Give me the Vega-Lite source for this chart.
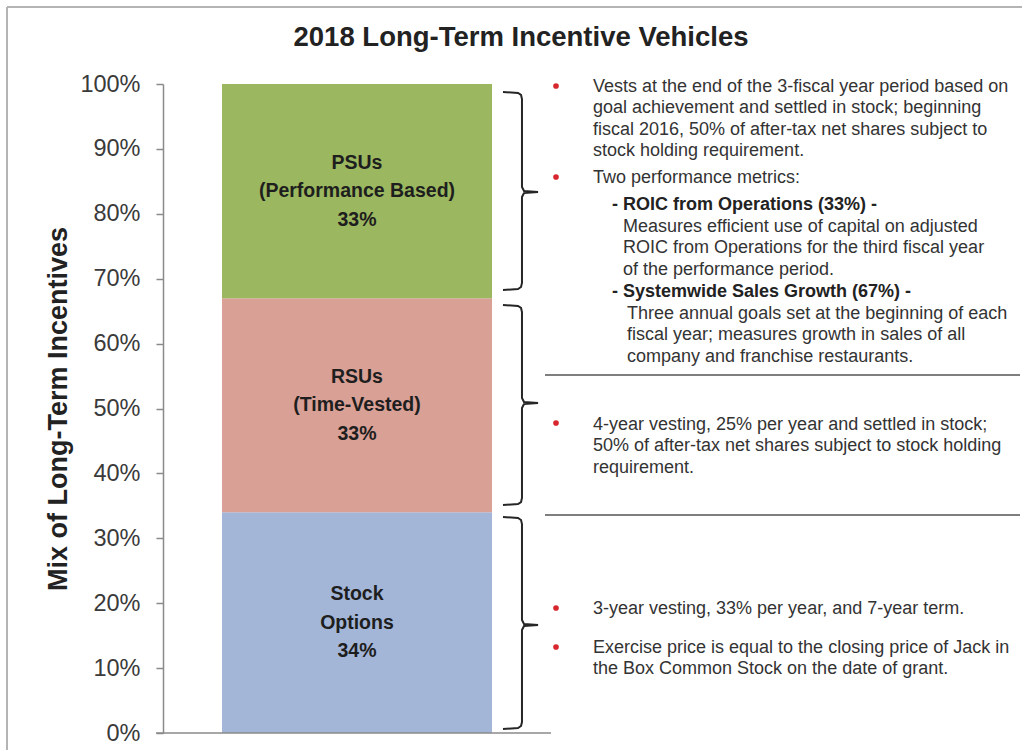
{
  "$schema": "https://vega.github.io/schema/vega-lite/v6.json",
  "width": 859,
  "height": 649,
  "autosize": {"type": "none"},
  "padding": {"left": 163, "top": 84, "right": 0, "bottom": 17},
  "background": "white",
  "config": {
    "view": {"stroke": null},
    "font": "Liberation Sans"
  },
  "title": {
    "text": "2018 Long-Term Incentive Vehicles",
    "fontSize": 27.5,
    "fontWeight": "bold",
    "color": "#222222",
    "anchor": "middle",
    "dx": -71.5,
    "offset": -45
  },
  "layer": [
    {
      "data": {"values": [
        {"vehicle": "Stock Options", "share": 0.34, "order": 1, "label": "Stock\nOptions\n34%"},
        {"vehicle": "RSUs", "share": 0.33, "order": 2, "label": "RSUs\n(Time-Vested)\n33%"},
        {"vehicle": "PSUs", "share": 0.33, "order": 3, "label": "PSUs\n(Performance Based)\n33%"}
      ]},
      "transform": [
        {"window": [{"op": "sum", "field": "share", "as": "hi"}], "sort": [{"field": "order", "order": "ascending"}], "frame": [null, 0]},
        {"calculate": "datum.hi - datum.share", "as": "lo"},
        {"calculate": "datum.hi - datum.share / 2", "as": "mid"}
      ],
      "layer": [
        {
          "mark": {"type": "bar"},
          "encoding": {
            "x": {"datum": 6.87, "type": "quantitative", "scale": {"domain": [0, 100], "nice": false, "zero": false}, "axis": null},
            "x2": {"datum": 38.3},
            "y": {
              "field": "lo", "type": "quantitative",
              "scale": {"domain": [0, 1], "nice": false},
              "title": "Mix of Long-Term Incentives",
              "axis": {
                "values": [0, 0.1, 0.2, 0.3, 0.4, 0.5, 0.6, 0.7, 0.8, 0.9, 1],
                "format": ".0%",
                "grid": false,
                "domainColor": "#8a8a8a",
                "domainWidth": 1.5,
                "tickColor": "#8a8a8a",
                "tickWidth": 1.5,
                "tickSize": 7,
                "labelFontSize": 23.5,
                "labelColor": "#3a3a3a",
                "labelPadding": 16,
                "titleFontSize": 27,
                "titleFontWeight": "bold",
                "titleColor": "#222222",
                "titlePadding": 7
              }
            },
            "y2": {"field": "hi"},
            "color": {
              "field": "vehicle", "type": "nominal",
              "scale": {"domain": ["Stock Options", "RSUs", "PSUs"], "range": ["#a3b6d8", "#d9a096", "#9bb75f"]},
              "legend": null
            }
          }
        },
        {
          "mark": {"type": "text", "fontSize": 19.5, "fontWeight": "bold", "color": "#1e1e1e", "lineBreak": "\n", "lineHeight": 28.5, "align": "center", "baseline": "middle", "dy": -28.5},
          "encoding": {
            "x": {"datum": 22.58, "type": "quantitative"},
            "y": {"field": "mid", "type": "quantitative"},
            "text": {"field": "label", "type": "nominal"}
          }
        }
      ]
    },
    {
      "data": {"values": [
        {"kind": "separator", "x": 44.47, "x2": 99.77, "y": 0.5516, "y2": 0.5516},
        {"kind": "separator", "x": 44.47, "x2": 99.77, "y": 0.3359, "y2": 0.3359}
      ]},
      "mark": {"type": "rule", "color": "#555555", "strokeWidth": 1.5},
      "encoding": {
        "x": {"field": "x", "type": "quantitative"},
        "x2": {"field": "x2"},
        "y": {"field": "y", "type": "quantitative"},
        "y2": {"field": "y2"}
      }
    },
    {
      "data": {"values": [
        {"kind": "baseline", "x": -0.81, "x2": 45.17, "y": 0, "y2": 0}
      ]},
      "mark": {"type": "rule", "color": "#8a8a8a", "strokeWidth": 1.5},
      "encoding": {
        "x": {"field": "x", "type": "quantitative"},
        "x2": {"field": "x2"},
        "y": {"field": "y", "type": "quantitative"},
        "y2": {"field": "y2"}
      }
    },
    {
      "data": {"values": [
        {"kind": "frame", "x": -18.16, "x2": 100, "y": 1.1186, "y2": 1.1186},
        {"kind": "frame", "x": -18.16, "x2": -18.16, "y": 1.1186, "y2": -0.05}
      ]},
      "mark": {"type": "rule", "color": "#b4b4b4", "strokeWidth": 2},
      "encoding": {
        "x": {"field": "x", "type": "quantitative"},
        "x2": {"field": "x2"},
        "y": {"field": "y", "type": "quantitative"},
        "y2": {"field": "y2"}
      }
    },
    {
      "data": {"values": [
        {"b": "PSUs", "s": 1, "x": 39.58, "y": 0.9877},
        {"b": "PSUs", "s": 2, "x": 41.33, "y": 0.9861},
        {"b": "PSUs", "s": 3, "x": 41.68, "y": 0.9831},
        {"b": "PSUs", "s": 4, "x": 41.79, "y": 0.9769},
        {"b": "PSUs", "s": 5, "x": 41.79, "y": 0.8413},
        {"b": "PSUs", "s": 6, "x": 42.03, "y": 0.8351},
        {"b": "PSUs", "s": 7, "x": 43.66, "y": 0.8336},
        {"b": "PSUs", "s": 8, "x": 42.03, "y": 0.8320},
        {"b": "PSUs", "s": 9, "x": 41.79, "y": 0.8259},
        {"b": "PSUs", "s": 10, "x": 41.79, "y": 0.6934},
        {"b": "PSUs", "s": 11, "x": 41.68, "y": 0.6872},
        {"b": "PSUs", "s": 12, "x": 41.33, "y": 0.6841},
        {"b": "PSUs", "s": 13, "x": 39.58, "y": 0.6826},
        {"b": "RSUs", "s": 1, "x": 39.58, "y": 0.6595},
        {"b": "RSUs", "s": 2, "x": 41.33, "y": 0.6579},
        {"b": "RSUs", "s": 3, "x": 41.68, "y": 0.6549},
        {"b": "RSUs", "s": 4, "x": 41.79, "y": 0.6487},
        {"b": "RSUs", "s": 5, "x": 41.79, "y": 0.5162},
        {"b": "RSUs", "s": 6, "x": 42.03, "y": 0.5100},
        {"b": "RSUs", "s": 7, "x": 43.66, "y": 0.5085},
        {"b": "RSUs", "s": 8, "x": 42.03, "y": 0.5069},
        {"b": "RSUs", "s": 9, "x": 41.79, "y": 0.5008},
        {"b": "RSUs", "s": 10, "x": 41.79, "y": 0.3621},
        {"b": "RSUs", "s": 11, "x": 41.68, "y": 0.3559},
        {"b": "RSUs", "s": 12, "x": 41.33, "y": 0.3529},
        {"b": "RSUs", "s": 13, "x": 39.58, "y": 0.3513},
        {"b": "Options", "s": 1, "x": 39.58, "y": 0.3328},
        {"b": "Options", "s": 2, "x": 41.33, "y": 0.3313},
        {"b": "Options", "s": 3, "x": 41.68, "y": 0.3282},
        {"b": "Options", "s": 4, "x": 41.79, "y": 0.3220},
        {"b": "Options", "s": 5, "x": 41.79, "y": 0.1741},
        {"b": "Options", "s": 6, "x": 42.03, "y": 0.1680},
        {"b": "Options", "s": 7, "x": 43.66, "y": 0.1664},
        {"b": "Options", "s": 8, "x": 42.03, "y": 0.1649},
        {"b": "Options", "s": 9, "x": 41.79, "y": 0.1587},
        {"b": "Options", "s": 10, "x": 41.79, "y": 0.0169},
        {"b": "Options", "s": 11, "x": 41.68, "y": 0.0108},
        {"b": "Options", "s": 12, "x": 41.33, "y": 0.0077},
        {"b": "Options", "s": 13, "x": 39.58, "y": 0.0062}
      ]},
      "mark": {"type": "line", "color": "#262626", "strokeWidth": 2},
      "encoding": {
        "x": {"field": "x", "type": "quantitative"},
        "y": {"field": "y", "type": "quantitative"},
        "detail": {"field": "b", "type": "nominal"},
        "order": {"field": "s", "type": "quantitative"}
      }
    },
    {
      "data": {"values": [
        {"x": 45.75, "y": 0.9969},
        {"x": 45.75, "y": 0.8567},
        {"x": 45.75, "y": 0.4777},
        {"x": 45.75, "y": 0.1926},
        {"x": 45.75, "y": 0.1325}
      ]},
      "mark": {"type": "point", "shape": "circle", "filled": true, "size": 32, "color": "#d7262e", "opacity": 1},
      "encoding": {
        "x": {"field": "x", "type": "quantitative"},
        "y": {"field": "y", "type": "quantitative"}
      }
    },
    {
      "data": {"values": [
        {"x": 50.06, "y": 0.9954, "bold": false, "text": "Vests at the end of the 3-fiscal year period based on\ngoal achievement and settled in stock; beginning\nfiscal 2016, 50% of after-tax net shares subject to\nstock holding requirement."},
        {"x": 50.06, "y": 0.8552, "bold": false, "text": "Two performance metrics:"},
        {"x": 52.27, "y": 0.8136, "bold": true, "text": "- ROIC from Operations (33%) -"},
        {"x": 53.55, "y": 0.7797, "bold": false, "text": "Measures efficient use of capital on adjusted\nROIC from Operations for the third fiscal year\nof the performance period."},
        {"x": 52.27, "y": 0.6795, "bold": true, "text": "- Systemwide Sales Growth (67%) -"},
        {"x": 54.02, "y": 0.6456, "bold": false, "text": "Three annual goals set at the beginning of each\nfiscal year; measures growth in sales of all\ncompany and franchise restaurants."},
        {"x": 50.06, "y": 0.4746, "bold": false, "text": "4-year vesting, 25% per year and settled in stock;\n50% of after-tax net shares subject to stock holding\nrequirement."},
        {"x": 50.06, "y": 0.1911, "bold": false, "text": "3-year vesting, 33% per year, and 7-year term."},
        {"x": 50.06, "y": 0.1310, "bold": false, "text": "Exercise price is equal to the closing price of Jack in\nthe Box Common Stock on the date of grant."}
      ]},
      "layer": [
        {
          "transform": [{"filter": "!datum.bold"}],
          "mark": {"type": "text", "fontSize": 18, "color": "#333333", "lineBreak": "\n", "lineHeight": 21.4, "align": "left", "baseline": "middle"},
          "encoding": {
            "x": {"field": "x", "type": "quantitative"},
            "y": {"field": "y", "type": "quantitative"},
            "text": {"field": "text", "type": "nominal"}
          }
        },
        {
          "transform": [{"filter": "datum.bold"}],
          "mark": {"type": "text", "fontSize": 18, "fontWeight": "bold", "color": "#222222", "align": "left", "baseline": "middle"},
          "encoding": {
            "x": {"field": "x", "type": "quantitative"},
            "y": {"field": "y", "type": "quantitative"},
            "text": {"field": "text", "type": "nominal"}
          }
        }
      ]
    }
  ]
}
